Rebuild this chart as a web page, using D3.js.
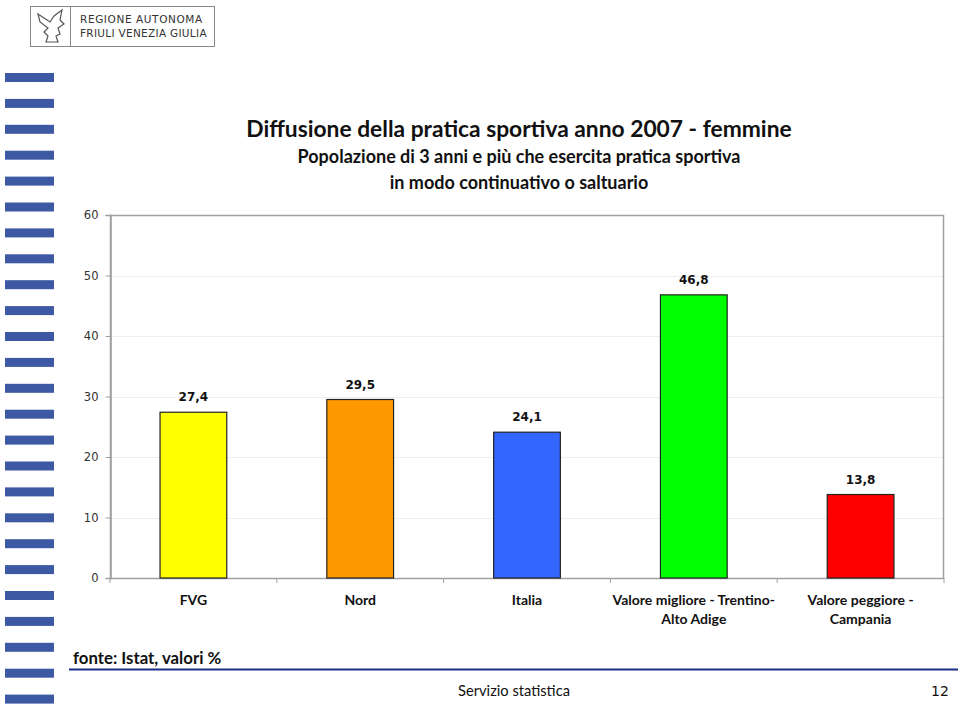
<!DOCTYPE html>
<html>
<head>
<meta charset="utf-8">
<script src="https://cdn.jsdelivr.net/npm/d3@7"></script>
<style>
body { margin: 0; background: #fff; }
svg text { font-family: Lato, "Open Sans", sans-serif; }
</style>
</head>
<body>
<svg id="chart" width="960" height="712"></svg>
<script>
// data
var categories = ["FVG", "Nord", "Italia", "Valore migliore - Trentino-Alto Adige", "Valore peggiore - Campania"];
var catLines = [["FVG"], ["Nord"], ["Italia"], ["Valore migliore - Trentino-", "Alto Adige"], ["Valore peggiore -", "Campania"]];
var values = [27.4, 29.5, 24.1, 46.8, 13.8];
var barColors = ["#ffff00", "#ff9900", "#3366ff", "#00ff00", "#ff0000"];
var yTicks = [0, 10, 20, 30, 40, 50, 60];

var svg = d3.select("#chart");

// side stripes
var stripes = d3.range(25);
svg.selectAll(".stripe")
    .data(stripes)
    .enter().append("rect")
    .attr("class", "stripe")
    .attr("x", 5)
    .attr("y", function(d) { return 73 + d * 25.9; })
    .attr("width", 49)
    .attr("height", 9)
    .attr("fill", "#3d59a4");

// logo
var logo = svg.append("g");
logo.append("rect").attr("x", 30.5).attr("y", 6.5).attr("width", 184).attr("height", 40)
    .attr("fill", "#fff").attr("stroke", "#888");
logo.append("line").attr("x1", 70.5).attr("x2", 70.5).attr("y1", 6.5).attr("y2", 46.5).attr("stroke", "#888");
logo.append("path")
    .attr("d", "M38,14 L50,22 L54,16 L62,10 L60,20 L64,24 L58,28 L60,34 L56,36 L58,42 L46,42 L48,36 L44,32 L48,28 L40,22 Z")
    .attr("fill", "none").attr("stroke", "#555").attr("stroke-width", 1.2);
logo.append("text").attr("x", 80).attr("y", 23).attr("font-size", 10.5).attr("fill", "#333")
    .attr("letter-spacing", 0.6).style("font-family", "DejaVu Sans, sans-serif").text("REGIONE AUTONOMA");
logo.append("text").attr("x", 80).attr("y", 37).attr("font-size", 10.5).attr("fill", "#333")
    .attr("letter-spacing", 0.3).style("font-family", "DejaVu Sans, sans-serif").text("FRIULI VENEZIA GIULIA");

// titles
svg.append("text").attr("x", 519).attr("y", 137).attr("text-anchor", "middle")
    .attr("font-size", 22.8).attr("font-weight", "bold").attr("fill", "#111")
    .text("Diffusione della pratica sportiva anno 2007 - femmine");
svg.append("text").attr("x", 519).attr("y", 163).attr("text-anchor", "middle")
    .attr("font-size", 18).attr("font-weight", "bold").attr("fill", "#111")
    .text("Popolazione di 3 anni e più che esercita pratica sportiva");
svg.append("text").attr("x", 519).attr("y", 189).attr("text-anchor", "middle")
    .attr("font-size", 18).attr("font-weight", "bold").attr("fill", "#111")
    .text("in modo continuativo o saltuario");

// plot
var plotLeft = 110, plotRight = 944, plotTop = 215, plotBottom = 578;

var x = d3.scaleBand()
    .domain(categories)
    .range([plotLeft, plotRight])
    .paddingInner(0.6)
    .paddingOuter(0.3);

var y = d3.scaleLinear()
    .domain([0, 60])
    .range([plotBottom, plotTop]);

// gridlines
svg.selectAll(".grid")
    .data(yTicks.slice(1, -1))
    .enter().append("line")
    .attr("class", "grid")
    .attr("x1", plotLeft).attr("x2", plotRight)
    .attr("y1", function(d) { return Math.round(y(d)) + 0.5; })
    .attr("y2", function(d) { return Math.round(y(d)) + 0.5; })
    .attr("stroke", "#eeeeee");

// plot border
svg.append("rect").attr("x", plotLeft + 0.5).attr("y", plotTop + 0.5)
    .attr("width", plotRight - plotLeft - 1).attr("height", plotBottom - plotTop)
    .attr("fill", "none").attr("stroke", "#a0a0a0").attr("stroke-width", 1.5);

// y axis
var yAxis = svg.append("g")
    .attr("transform", "translate(" + (plotLeft + 0.5) + ",0)")
    .call(d3.axisLeft(y).tickValues(yTicks).tickSize(5).tickPadding(7));
yAxis.select(".domain").attr("stroke", "#a0a0a0").attr("stroke-width", 1.5);
yAxis.selectAll(".tick line").attr("stroke", "#a0a0a0");
yAxis.selectAll("text").attr("font-size", 11.5).attr("fill", "#333")
    .style("font-family", "DejaVu Sans, Verdana, sans-serif");

// x category ticks
var catStep = (plotRight - plotLeft) / categories.length;
svg.selectAll(".xtick")
    .data(d3.range(categories.length + 1))
    .enter().append("line")
    .attr("class", "xtick")
    .attr("x1", function(d) { return plotLeft + d * catStep; })
    .attr("x2", function(d) { return plotLeft + d * catStep; })
    .attr("y1", plotBottom).attr("y2", plotBottom + 5)
    .attr("stroke", "#a0a0a0");

// bars
svg.selectAll(".bar")
    .data(values)
    .enter().append("rect")
    .attr("class", "bar")
    .attr("x", function(d, i) { return x(categories[i]); })
    .attr("y", function(d) { return y(d); })
    .attr("width", x.bandwidth())
    .attr("height", function(d) { return plotBottom - y(d); })
    .attr("fill", function(d, i) { return barColors[i]; })
    .attr("stroke", "#222")
    .attr("stroke-width", 1.2);

// value labels
svg.selectAll(".vlabel")
    .data(values)
    .enter().append("text")
    .attr("class", "vlabel")
    .attr("x", function(d, i) { return x(categories[i]) + x.bandwidth() / 2; })
    .attr("y", function(d) { return y(d) - 11; })
    .attr("text-anchor", "middle")
    .attr("font-size", 12)
    .attr("font-weight", "bold")
    .attr("fill", "#111")
    .style("font-family", "DejaVu Sans, Verdana, sans-serif")
    .text(function(d) { return String(d).replace(".", ","); });

// category labels
var catG = svg.selectAll(".clabel")
    .data(catLines)
    .enter().append("text")
    .attr("class", "clabel")
    .attr("text-anchor", "middle")
    .attr("font-size", 14)
    .attr("font-weight", "bold")
    .attr("fill", "#111");
catG.selectAll("tspan")
    .data(function(d, i) { return d.map(function(t) { return {t: t, i: i}; }); })
    .enter().append("tspan")
    .attr("x", function(d) { return x(categories[d.i]) + x.bandwidth() / 2; })
    .attr("y", function(d, j) { return 605 + j * 19; })
    .text(function(d) { return d.t; });

// footer
svg.append("text").attr("x", 73).attr("y", 664)
    .attr("font-size", 16.8).attr("font-weight", "bold").attr("fill", "#111")
    .text("fonte: Istat, valori %");
svg.append("line").attr("x1", 69).attr("x2", 958).attr("y1", 669.5).attr("y2", 669.5)
    .attr("stroke", "#1e2b88").attr("stroke-width", 2);
svg.append("text").attr("x", 514).attr("y", 696).attr("text-anchor", "middle")
    .attr("font-size", 14.7).attr("fill", "#111")
    .text("Servizio statistica");
svg.append("text").attr("x", 940).attr("y", 696).attr("text-anchor", "middle")
    .attr("font-size", 14).attr("fill", "#111")
    .style("font-family", "DejaVu Sans, sans-serif")
    .text("12");
</script>
</body>
</html>
